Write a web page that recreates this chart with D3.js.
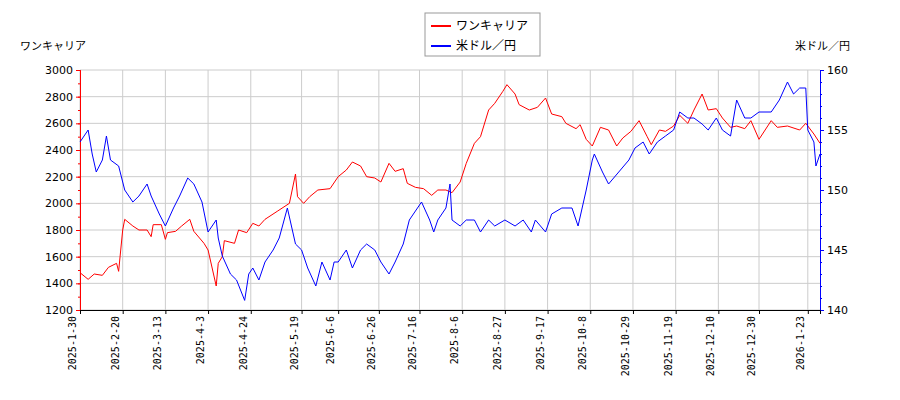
<!DOCTYPE html>
<html><head><meta charset="utf-8">
<script src="https://cdn.jsdelivr.net/npm/d3@7"></script>
<style>body{margin:0;background:#fff}text{font-family:"Noto Sans CJK JP","DejaVu Sans",sans-serif}.num text{font-family:"DejaVu Sans",sans-serif}.mono text{font-family:"DejaVu Sans Mono",monospace}</style>
</head><body><svg id="c" width="900" height="400"></svg>
<script>
const stockDates = ["2025-01-30","2025-02-03","2025-02-06","2025-02-10","2025-02-13","2025-02-17","2025-02-18","2025-02-20","2025-02-21","2025-02-25","2025-02-28","2025-03-04","2025-03-06","2025-03-07","2025-03-11","2025-03-13","2025-03-14","2025-03-18","2025-03-21","2025-03-25","2025-03-27","2025-04-01","2025-04-03","2025-04-07","2025-04-08","2025-04-10","2025-04-11","2025-04-16","2025-04-18","2025-04-22","2025-04-25","2025-04-28","2025-05-01","2025-05-07","2025-05-13","2025-05-16","2025-05-17","2025-05-20","2025-05-23","2025-05-27","2025-06-02","2025-06-06","2025-06-10","2025-06-13","2025-06-17","2025-06-20","2025-06-24","2025-06-27","2025-07-01","2025-07-04","2025-07-08","2025-07-10","2025-07-14","2025-07-18","2025-07-22","2025-07-25","2025-07-29","2025-08-01","2025-08-05","2025-08-08","2025-08-12","2025-08-15","2025-08-19","2025-08-22","2025-08-26","2025-08-28","2025-09-01","2025-09-03","2025-09-08","2025-09-12","2025-09-16","2025-09-19","2025-09-24","2025-09-26","2025-10-01","2025-10-03","2025-10-06","2025-10-09","2025-10-13","2025-10-17","2025-10-21","2025-10-24","2025-10-28","2025-11-01","2025-11-05","2025-11-07","2025-11-11","2025-11-14","2025-11-18","2025-11-21","2025-11-25","2025-11-28","2025-12-02","2025-12-05","2025-12-09","2025-12-12","2025-12-16","2025-12-19","2025-12-23","2025-12-26","2025-12-30","2026-01-05","2026-01-08","2026-01-13","2026-01-19","2026-01-22","2026-01-26","2026-01-29"];
const stockValues = [1480,1430,1470,1460,1520,1550,1490,1800,1880,1830,1800,1800,1750,1840,1840,1730,1780,1790,1830,1880,1790,1700,1650,1380,1550,1600,1720,1700,1800,1780,1850,1830,1880,1940,2000,2220,2050,2000,2050,2100,2110,2200,2250,2310,2280,2200,2190,2160,2300,2240,2260,2150,2120,2110,2060,2100,2100,2080,2160,2300,2450,2500,2700,2750,2840,2890,2820,2740,2700,2720,2790,2670,2650,2600,2560,2590,2480,2430,2570,2550,2430,2490,2540,2620,2500,2440,2550,2540,2580,2660,2600,2700,2820,2700,2710,2640,2570,2580,2560,2620,2480,2620,2570,2580,2550,2600,2520,2450];
const fxDates = ["2025-01-30","2025-02-03","2025-02-05","2025-02-07","2025-02-10","2025-02-12","2025-02-14","2025-02-18","2025-02-21","2025-02-25","2025-02-28","2025-03-04","2025-03-06","2025-03-10","2025-03-13","2025-03-17","2025-03-20","2025-03-24","2025-03-27","2025-03-31","2025-04-03","2025-04-07","2025-04-08","2025-04-10","2025-04-14","2025-04-17","2025-04-21","2025-04-23","2025-04-25","2025-04-28","2025-05-01","2025-05-05","2025-05-08","2025-05-12","2025-05-14","2025-05-16","2025-05-19","2025-05-22","2025-05-26","2025-05-29","2025-06-02","2025-06-04","2025-06-06","2025-06-10","2025-06-13","2025-06-17","2025-06-20","2025-06-24","2025-06-27","2025-07-01","2025-07-04","2025-07-08","2025-07-11","2025-07-15","2025-07-17","2025-07-21","2025-07-23","2025-07-25","2025-07-29","2025-07-31","2025-08-01","2025-08-05","2025-08-08","2025-08-12","2025-08-15","2025-08-19","2025-08-22","2025-08-27","2025-09-01","2025-09-05","2025-09-09","2025-09-11","2025-09-16","2025-09-19","2025-09-24","2025-09-29","2025-10-02","2025-10-06","2025-10-09","2025-10-10","2025-10-14","2025-10-17","2025-10-22","2025-10-27","2025-10-30","2025-11-03","2025-11-06","2025-11-10","2025-11-14","2025-11-18","2025-11-21","2025-11-25","2025-11-28","2025-12-02","2025-12-05","2025-12-09","2025-12-12","2025-12-16","2025-12-19","2025-12-23","2025-12-26","2025-12-30","2026-01-05","2026-01-09","2026-01-13","2026-01-16","2026-01-19","2026-01-22","2026-01-23","2026-01-26","2026-01-27","2026-01-29"];
const fxValues = [154,155,153,151.5,152.5,154.5,152.5,152,150,149,149.5,150.5,149.5,148,147,148.5,149.5,151,150.5,149,146.5,147.5,146,144.5,143,142.5,140.8,143,143.5,142.5,144,145,146,148.5,147,145.5,145,143.5,142,144,142.5,144,144,145,143.5,145,145.5,145,144,143,144,145.5,147.5,148.5,149,147.5,146.5,147.5,148.5,150.5,147.5,147,147.5,147.5,146.5,147.5,147,147.5,147,147.5,146.5,147.5,146.5,148,148.5,148.5,147,150,152.5,153,151.5,150.5,151.5,152.5,153.5,154,153,154,154.5,155,156.5,156,156,155.5,155,156,155,154.5,157.5,156,156,156.5,156.5,157.5,159,158,158.5,158.5,155,154,152,153];
const xTicks = ["2025-1-30","2025-2-20","2025-3-13","2025-4-3","2025-4-24","2025-5-19","2025-6-6","2025-6-26","2025-7-16","2025-8-6","2025-8-27","2025-9-17","2025-10-8","2025-10-29","2025-11-19","2025-12-10","2025-12-30","2026-1-23"];
const leftTicks = [1200,1400,1600,1800,2000,2200,2400,2600,2800,3000];
const rightTicks = [140,145,150,155,160];

const p = d3.timeParse("%Y-%m-%d");
const pt = t => p(t.replace(/-(\d)(?=-|$)/g, "-0$1"));
const svg = d3.select("#c");
const L = 80, R = 820, T = 70, B = 310;
const x = d3.scaleTime().domain([p("2025-01-30"), p("2026-01-29")]).range([L, R]);
const yl = d3.scaleLinear().domain([1200, 3000]).range([B, T]);
const yr = d3.scaleLinear().domain([140, 160]).range([B, T]);

const g = svg.append("g");
xTicks.forEach(t => {
  const xx = x(pt(t));
  g.append("line").attr("x1", xx).attr("x2", xx).attr("y1", T).attr("y2", B).attr("stroke", "#ccc");
});
leftTicks.forEach(v => g.append("line").attr("x1", L).attr("x2", R).attr("y1", yl(v)).attr("y2", yl(v)).attr("stroke", "#ccc"));

const la = svg.append("g").attr("class", "num").attr("transform", `translate(${L},0)`)
  .call(d3.axisLeft(yl).tickValues(leftTicks).tickSize(4).tickFormat(d3.format("d")));
la.select(".domain").attr("stroke", "red");
la.selectAll("line").attr("stroke", "red");
la.selectAll("text").attr("font-size", 11).attr("fill", "#000");
svg.append("g").attr("transform", `translate(${L},0)`)
  .call(d3.axisLeft(yl).ticks(18).tickSize(2).tickFormat(""))
  .selectAll("line,path").attr("stroke", "red");

const ra = svg.append("g").attr("class", "num").attr("transform", `translate(${R},0)`)
  .call(d3.axisRight(yr).tickValues(rightTicks).tickSize(4));
ra.select(".domain").attr("stroke", "blue");
ra.selectAll("line").attr("stroke", "blue");
ra.selectAll("text").attr("font-size", 11).attr("fill", "#000");
svg.append("g").attr("transform", `translate(${R},0)`)
  .call(d3.axisRight(yr).ticks(20).tickSize(2).tickFormat(""))
  .selectAll("line,path").attr("stroke", "blue");

const xa = svg.append("g").attr("class", "mono").attr("transform", `translate(0,${B})`)
  .call(d3.axisBottom(x).tickValues(xTicks.map(pt)).tickSize(4).tickFormat((d, i) => xTicks[i]));
xa.selectAll("text").attr("font-size", 10).attr("fill", "#000")
  .attr("transform", "rotate(-90)").attr("text-anchor", "end").attr("dx", "-6").attr("dy", "-0.45em").attr("x", 0).attr("y", 0);

const line = y => d3.line().x(d => x(p(d[0]))).y(d => y(d[1]));
svg.append("path").datum(d3.zip(stockDates, stockValues)).attr("d", line(yl))
  .attr("fill", "none").attr("stroke", "red").attr("stroke-width", 1);
svg.append("path").datum(d3.zip(fxDates, fxValues)).attr("d", line(yr))
  .attr("fill", "none").attr("stroke", "blue").attr("stroke-width", 1);

svg.append("text").attr("x", 20).attr("y", 50).attr("font-size", 11).text("ワンキャリア");
svg.append("text").attr("x", 850).attr("y", 50).attr("font-size", 11).attr("text-anchor", "end").text("米ドル／円");

const lg = svg.append("g");
lg.append("rect").attr("x", 425).attr("y", 13).attr("width", 115).attr("height", 43)
  .attr("fill", "#fff").attr("stroke", "#999");
[["ワンキャリア", "red"], ["米ドル／円", "blue"]].forEach(([t, c], i) => {
  const yy = 26 + i * 20;
  lg.append("line").attr("x1", 431).attr("x2", 451).attr("y1", yy).attr("y2", yy).attr("stroke", c).attr("stroke-width", 2);
  lg.append("text").attr("x", 456).attr("y", yy + 4).attr("font-size", 12).text(t);
});
</script></body></html>
